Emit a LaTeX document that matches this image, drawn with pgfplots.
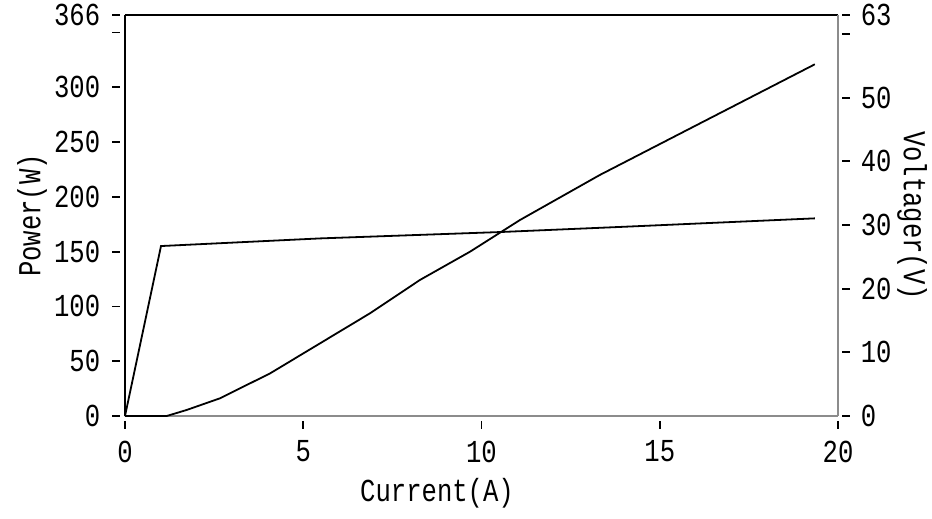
\documentclass[border=0pt]{standalone}
\usepackage{fontspec}
\setmainfont[FakeStretch=0.8]{Liberation Mono}
\usepackage{pgfplots}
\pgfplotsset{compat=1.18}
\begin{document}
\fontsize{32}{36}\selectfont
\begin{tikzpicture}
\useasboundingbox (-125pt,-103pt) rectangle (807pt,416pt);
\begin{axis}[
  scale only axis, width=713pt, height=401pt,
  xmin=0, xmax=20, ymin=0, ymax=366,
  axis x line*=bottom, axis y line*=left,
  x axis line style={gray!90, line width=1.4pt, -},
  y axis line style={black, line width=1.6pt, -},
  tick align=outside, major tick length=0pt,
  xtick={0,5,10,15,20},
  ytick={0,50,100,150,200,250,300,350,366},
  yticklabels={0,50,100,150,200,250,300,{},366},
  /pgf/number format/assume math mode=true,
  xticklabel style={anchor=north, yshift=-14pt},
  yticklabel style={anchor=east, xshift=-14pt},
  xlabel={Current(A)},
  xlabel style={at={(rel axis cs:0.4376,-0.192)}, anchor=center},
  ylabel={Power(W)},
  ylabel style={at={(rel axis cs:-0.1304,0.5)}, anchor=center, rotate=0},
  clip=false,
]
\addplot[black, line width=1.8pt] coordinates {
(0,0) (1.17,0) (1.73,5.5) (2.66,16.1) (4.07,38.9) (5.47,66.3) (6.87,93.7)
(8.27,124.1) (9.68,150.0) (11.08,178.9) (13.32,220.0) (16.13,267.1) (19.35,321.0)};
\draw[black, line width=1.6pt] (rel axis cs:0,1) -- (rel axis cs:1,1);
\end{axis}
\begin{axis}[
  scale only axis, width=713pt, height=401pt,
  xmin=0, xmax=20, ymin=0, ymax=63,
  axis x line=none, axis y line*=right,
  y axis line style={gray!90, line width=1.4pt, -},
  tick align=outside, major tick length=0pt,
  ytick={0,10,20,30,40,50,60,63},
  yticklabels={0,10,20,30,40,50,{},63},
  /pgf/number format/assume math mode=true,
  yticklabel style={anchor=west, xshift=12pt},
  ylabel={Voltager(V)},
  ylabel style={at={(rel axis cs:1.104,0.5)}, anchor=center, rotate=180, inner sep=0pt},
  clip=false,
]
\addplot[black, line width=1.8pt] coordinates {
(0,0) (1.01,26.7) (5.47,27.9) (10.52,28.9) (13.88,29.7) (19.35,31.05)};
\end{axis}
\foreach \k in {0,5,10,15,20} {
  \draw[black, line width=1.8pt] ({\k/20*713pt},-5pt) -- ++(0,-8pt);
}
\foreach \k in {0,50,100,150,200,250,300,350,366} {
  \draw[black, line width=1.8pt] (-5pt,{\k/366*401pt}) -- ++(-8pt,0);
}
\foreach \k in {0,10,20,30,40,50,60,63} {
  \draw[black, line width=1.8pt] (717pt,{\k/63*401pt}) -- ++(8pt,0);
}
\end{tikzpicture}
\end{document}
